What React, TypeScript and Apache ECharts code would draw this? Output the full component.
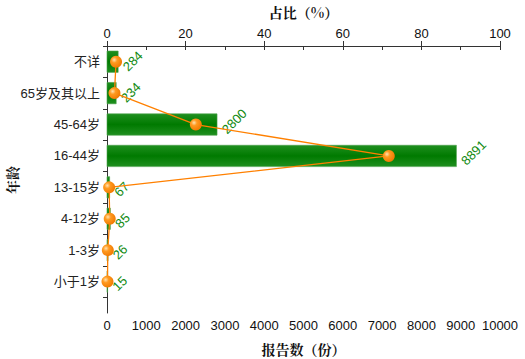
import React, { useEffect, useRef } from "react";
import * as echarts from "echarts";

const categories = ["不详", "65岁及其以上", "45-64岁", "16-44岁", "13-15岁", "4-12岁", "1-3岁", "小于1岁"];
const counts = [284, 234, 2800, 8891, 67, 85, 26, 15];
const percents = [2.3, 1.9, 22.6, 71.7, 0.54, 0.69, 0.21, 0.12];
const countTicks = [0, 1000, 2000, 3000, 4000, 5000, 6000, 7000, 8000, 9000, 10000];
const percentTicks = [0, 20, 40, 60, 80, 100];

const FONT = "'Liberation Sans', Arial, 'Noto Sans CJK SC', sans-serif";
const TITLE_FONT = "'Noto Serif CJK SC', 'Noto Sans CJK SC', serif";
const AXIS_COLOR = "#333333";

export default function App() {
  const ref = useRef<HTMLDivElement>(null);

  useEffect(() => {
    if (!ref.current) return;
    const chart = echarts.init(ref.current, null, { renderer: "svg" });

    const barData = counts.map((c, i) => [c, i + 0.5]);
    const lineData = percents.map((p, i) => [p, i + 0.5]);

    const ball = {
      type: "radial",
      x: 0.35,
      y: 0.35,
      r: 0.7,
      colorStops: [
        { offset: 0, color: "#ffe2b0" },
        { offset: 0.35, color: "#ff9a20" },
        { offset: 1, color: "#f07800" },
      ],
    };

    const nameStyle = { fontFamily: TITLE_FONT, fontWeight: "bold", fontSize: 14, color: "#111" };

    chart.setOption({
      animation: false,
      backgroundColor: "#ffffff",
      grid: { left: 107, right: 25, top: 46, bottom: 46, containLabel: false, outerBoundsMode: "none" },
      graphic: [
        {
          type: "text",
          x: 12,
          y: 180,
          rotation: Math.PI / 2,
          style: {
            text: "年龄",
            fill: "#111",
            font: `bold 14px ${TITLE_FONT}`,
            align: "center",
            verticalAlign: "middle",
          },
        },
      ],
      xAxis: [
        {
          type: "value",
          position: "bottom",
          min: countTicks[0],
          max: countTicks[countTicks.length - 1],
          interval: 1000,
          name: "报告数（份）",
          nameLocation: "middle",
          nameGap: 29,
          nameTextStyle: nameStyle,
          axisLine: { show: true, lineStyle: { color: AXIS_COLOR, width: 1 } },
          axisTick: { show: true, length: 4, lineStyle: { color: AXIS_COLOR } },
          axisLabel: { color: "#111", fontSize: 13, fontFamily: FONT, margin: 6, formatter: (v: number) => String(v) },
          splitLine: { show: false },
        },
        {
          type: "value",
          position: "top",
          min: percentTicks[0],
          max: percentTicks[percentTicks.length - 1],
          interval: 20,
          name: "占比（%）",
          nameLocation: "middle",
          nameGap: 27,
          nameTextStyle: nameStyle,
          axisLine: { show: true, lineStyle: { color: AXIS_COLOR, width: 1 } },
          axisTick: { show: true, length: 5, lineStyle: { color: AXIS_COLOR } },
          axisLabel: { color: "#111", fontSize: 13, fontFamily: FONT, margin: 6, formatter: (v: number) => String(v) },
          splitLine: { show: false },
        },
      ],
      yAxis: [
        {
          type: "value",
          inverse: true,
          min: 0,
          max: 8.5,
          interval: 1,
          axisLine: { show: true, lineStyle: { color: AXIS_COLOR, width: 1 } },
          axisTick: {
            show: true,
            length: 4,
            lineStyle: { color: AXIS_COLOR },
            customValues: [0, 1, 2, 3, 4, 5, 6, 7, 8],
          },
          axisLabel: {
            color: "#222",
            fontSize: 13,
            fontFamily: FONT,
            margin: 7,
            customValues: categories.map((_, i) => i + 0.5),
            formatter: (v: number) => categories[Math.floor(v)] ?? "",
          },
          splitLine: { show: false },
        },
      ],
      series: [
        {
          type: "custom",
          xAxisIndex: 0,
          yAxisIndex: 0,
          z: 2,
          data: barData,
          encode: { x: 0, y: 1 },
          renderItem: (params: any, api: any) => {
            const v = api.value(0);
            const yv = api.value(1);
            const start = api.coord([0, yv]);
            const end = api.coord([v, yv]);
            const h = api.size([0, 0.68])[1];
            return {
              type: "group",
              children: [
                {
                  type: "rect",
                  shape: { x: start[0], y: start[1] - h / 2, width: end[0] - start[0], height: h },
                  style: {
                    fill: {
                      type: "linear",
                      x: 0,
                      y: 0,
                      x2: 0,
                      y2: 1,
                      colorStops: [
                        { offset: 0, color: "#1f8f1f" },
                        { offset: 0.5, color: "#007a00" },
                        { offset: 1, color: "#1f8f1f" },
                      ],
                    },
                    stroke: "#4aa04a",
                    lineWidth: 0.6,
                  },
                },
                {
                  type: "text",
                  x: end[0] + 7,
                  y: end[1] + 7,
                  rotation: Math.PI / 4,
                  z2: 10,
                  style: {
                    text: String(v),
                    fill: "#108a10",
                    font: `13px ${FONT}`,
                    align: "left",
                    verticalAlign: "middle",
                  },
                },
              ],
            };
          },
        },
        {
          type: "line",
          xAxisIndex: 1,
          yAxisIndex: 0,
          z: 5,
          data: lineData,
          symbol: "circle",
          symbolSize: 12,
          lineStyle: { color: "#ff8000", width: 1.3 },
          itemStyle: { color: ball as any, borderWidth: 0 },
          label: { show: false },
        },
      ],
    });

    return () => chart.dispose();
  }, []);

  return <div ref={ref} style={{ width: 525, height: 359, position: "absolute", left: 0, top: 0 }} />;
}
